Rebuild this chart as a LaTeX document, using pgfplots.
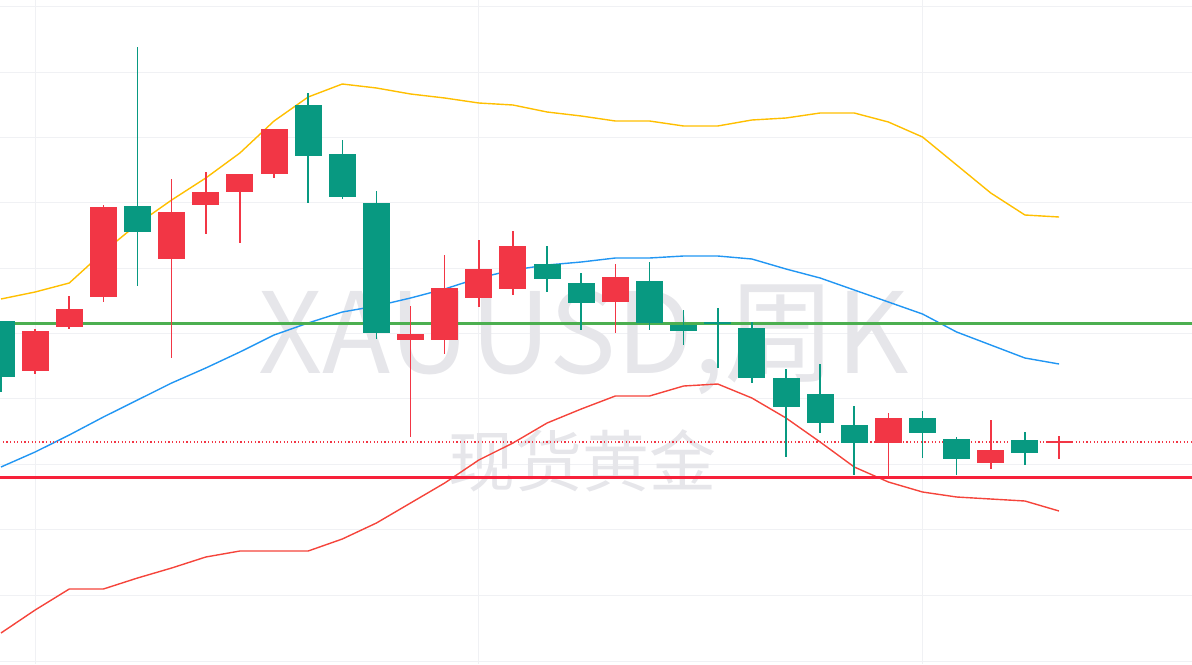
\documentclass[border=0pt]{standalone}
\usepackage{pgfplots}
\pgfplotsset{compat=1.18}
\usepackage{pgfplotstable}
\usepackage{fontspec}
\newfontfamily\cjk{Noto Sans CJK SC}
\definecolor{cup}{HTML}{F23645}
\definecolor{cdn}{HTML}{089981}
\definecolor{bup}{HTML}{FFBF00}
\definecolor{bmid}{HTML}{2196F3}
\definecolor{blow}{HTML}{F5443B}
\definecolor{hgreen}{HTML}{4CAF50}
\definecolor{hred}{HTML}{F7213A}
\definecolor{gridc}{HTML}{F0F1F4}
\definecolor{wm}{HTML}{E6E6EA}

\pgfplotstableread{
i up mid lo
0 299 467 633
1 292 452 610
2 283 435 589
3 252 417 589
4 224 400 578
5 200 383 568
6 178 368 557
7 153 352 551
8 121 335 551
9 97 323 551
10 84 312 539
11 88 306 523
12 94 298 503
13 98 289 483
14 103 278 460
15 105 270 443
16 112 265 423
17 116 262 409
18 121 258 396
19 121 258 396
20 126 256 386
21 126 256 384
22 120 259 398
23 118 269 418
24 113 278 442
25 113 290 467
26 122 302 482
27 137 314 492
28 165 332 497
29 193 345 499
30 215 358 501
31 217 364 511
}\bands

\pgfplotstableread{
i wt wb bt bb
1 329 374 331 371
2 296 329 309 327
3 205 302 207 297
5 179 358 212 259
6 172 234 192 205
7 174 243 174 192
8 129 178 129 174
12 306 437 334 340
13 255 354 288 340
14 240 307 269 298
15 231 295 246 289
18 264 333 277 302
26 413 477 418 443
29 420 469 450 463
31 436 459 441 443
}\redc

\pgfplotstableread{
i wt wb bt bb
0 321 392 321 377
4 47 286 206 232
9 93 203 105 156
10 140 199 154 197
11 191 339 203 333
16 246 292 264 279
17 273 330 283 303
19 262 330 281 323
20 310 345 325 331
21 308 368 322 324
22 322 383 328 378
23 369 457 378 407
24 364 433 394 423
25 406 475 425 443
27 411 458 418 433
28 437 475 439 459
30 432 465 440 453
}\greenc

\begin{document}
\begin{tikzpicture}
\begin{axis}[
  scale only axis, width=596pt, height=332pt,
  xmin=-0.0293, xmax=34.896, ymin=0, ymax=664, y dir=reverse,
  axis line style={draw=none},
  xtick={1,14,27}, ytick={6,72,137,202,268,333,398,464,529,595,661},
  xticklabels={}, yticklabels={},
  major tick length=0pt,
  grid=major, grid style={draw=gridc, line width=0.5pt},
  candle/.style 2 args={draw=none, mark=none, error bars/.cd, y dir=both, y explicit, error mark=none,
    error bar style={draw=#1, solid, line width=#2}},
]
\node[text=wm, font=\cjk\fontsize{56pt}{56pt}\selectfont, anchor=base, inner sep=0pt] at (axis cs:17.07,373) {XAUUSD,周K};
\node[text=wm, font=\cjk\fontsize{33.5pt}{33.5pt}\selectfont, anchor=center, inner sep=0pt] at (axis cs:17.04,461) {现货黄金};

\addplot[bup, line width=0.7pt, mark=none] table[x=i, y=up] {\bands};
\addplot[bmid, line width=0.7pt, mark=none] table[x=i, y=mid] {\bands};
\addplot[blow, line width=0.7pt, mark=none] table[x=i, y=lo] {\bands};

\addplot[hgreen, line width=1.5pt, mark=none] coordinates {(-1,323) (36,323)};
\addplot[hred, line width=1.5pt, mark=none] coordinates {(-1,477) (36,477)};
\addplot[cup, line width=0.6pt, dash pattern=on 0.6pt off 1.2pt, mark=none] coordinates {(-1,442) (36,442)};

% wicks
\addplot[candle={cup}{0.8pt}]
  table[x=i, y expr={(\thisrow{wt}+\thisrow{wb})/2}, y error expr={(\thisrow{wb}-\thisrow{wt})/2}] {\redc};
\addplot[candle={cdn}{0.8pt}]
  table[x=i, y expr={(\thisrow{wt}+\thisrow{wb})/2}, y error expr={(\thisrow{wb}-\thisrow{wt})/2}] {\greenc};
% bodies
\addplot[candle={cup}{13.5pt}]
  table[x=i, y expr={(\thisrow{bt}+\thisrow{bb})/2}, y error expr={(\thisrow{bb}-\thisrow{bt})/2}] {\redc};
\addplot[candle={cdn}{13.5pt}]
  table[x=i, y expr={(\thisrow{bt}+\thisrow{bb})/2}, y error expr={(\thisrow{bb}-\thisrow{bt})/2}] {\greenc};
\end{axis}
\pgfresetboundingbox
\path[use as bounding box] (current axis.south west) rectangle (current axis.north east);
\end{tikzpicture}
\end{document}
